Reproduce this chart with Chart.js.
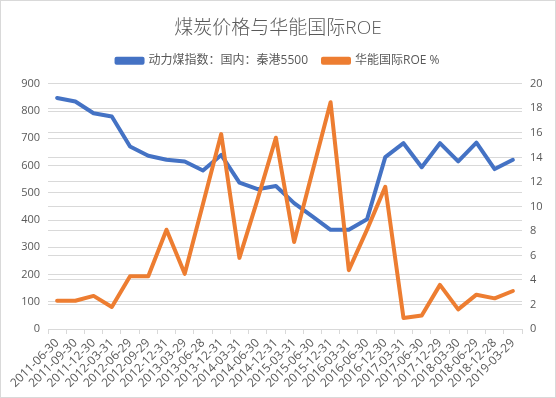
<!DOCTYPE html>
<html>
<head>
<meta charset="utf-8">
<script src="https://cdn.jsdelivr.net/npm/chart.js@4"></script>
<style>
  html, body { margin: 0; padding: 0; background: #fff; }
  #wrap { width: 556px; height: 398px; box-sizing: border-box; border: 1px solid #d9d9d9; }
</style>
</head>
<body>
<div id="wrap"><canvas id="chart"></canvas></div>
<script>
const dates = [
  "2011-06-30", "2011-09-30", "2011-12-30", "2012-03-31", "2012-06-29", "2012-09-29",
  "2012-12-31", "2013-03-29", "2013-06-28", "2013-12-31", "2014-03-31", "2014-06-30",
  "2014-12-31", "2015-03-31", "2015-06-30", "2015-12-31", "2016-03-31", "2016-06-30",
  "2016-12-30", "2017-03-31", "2017-06-30", "2017-12-29", "2018-03-30", "2018-06-29",
  "2018-12-28", "2019-03-29"
];

// 动力煤指数 (left axis)
const coalIndex = [848, 835, 792, 780, 670, 636, 621, 615, 582, 639, 537, 513, 525,
  462, 413, 364, 364, 403, 631, 682, 594, 682, 615, 684, 587, 621];

// 华能国际ROE % (right axis)
const huanengRoe = [2.3, 2.3, 2.7, 1.8, 4.3, 4.3, 8.1, 4.5, 10.2, 15.9, 5.8, 10.6, 15.6,
  7.1, 12.8, 18.5, 4.8, 8.1, 11.6, 0.9, 1.1, 3.6, 1.6, 2.8, 2.5, 3.1];

const leftTicks = { min: 0, max: 900, step: 100 };
const rightTicks = { min: 0, max: 20, step: 2 };

const grey = "#595959";
const gridColor = "#d9d9d9";
const fontFamily = "'Open Sans', 'Noto Sans CJK SC', sans-serif";

Chart.defaults.font.family = fontFamily;
Chart.defaults.color = grey;

new Chart(document.getElementById("chart"), {
  type: "line",
  data: {
    labels: dates,
    datasets: [
      {
        label: "动力煤指数：国内：秦港5500",
        data: coalIndex,
        yAxisID: "y",
        borderColor: "#4472c4",
        backgroundColor: "#4472c4",
        borderWidth: 4,
        pointRadius: 0,
        tension: 0,
        borderJoinStyle: "round",
        borderCapStyle: "round",
        order: 2,
      },
      {
        label: "华能国际ROE %",
        data: huanengRoe,
        yAxisID: "y1",
        borderColor: "#ed7d31",
        backgroundColor: "#ed7d31",
        borderWidth: 4,
        pointRadius: 0,
        tension: 0,
        borderJoinStyle: "round",
        borderCapStyle: "round",
        order: 1,
      },
    ],
  },
  options: {
    responsive: true,
    maintainAspectRatio: false,
    animation: false,
    layout: { padding: { left: 0, right: 0, top: 12, bottom: 0 } },
    plugins: {
      title: {
        display: true,
        text: "煤炭价格与华能国际ROE",
        color: grey,
        font: { size: 19, weight: 300 },
        padding: { top: 4, bottom: 0 },
      },
      // empty spacer between legend and plot
      subtitle: {
        display: true,
        text: " ",
        weight: 500,
        font: { size: 1, lineHeight: 1 },
        padding: { top: 0, bottom: 6 },
      },
      legend: {
        display: true,
        labels: {
          boxWidth: 26,
          boxHeight: 4,
          color: grey,
          font: { size: 12 },
          padding: 15,
          sort: (a, b) => a.datasetIndex - b.datasetIndex,
        },
      },
      tooltip: { enabled: false },
    },
    scales: {
      x: {
        offset: true,
        grid: { display: true, drawOnChartArea: false, offset: true, color: gridColor, tickLength: 5 },
        border: { color: gridColor },
        ticks: { autoSkip: false, minRotation: 45, maxRotation: 45, color: grey, font: { size: 12 }, padding: 2 },
        afterFit: (scale) => { scale.height = 68; },
      },
      y: {
        position: "left",
        min: leftTicks.min,
        max: leftTicks.max,
        ticks: { stepSize: leftTicks.step, color: grey, font: { size: 11 }, padding: 8 },
        grid: { color: gridColor, drawTicks: false },
        border: { display: false },
        afterFit: (scale) => { scale.width = 47; },
      },
      y1: {
        position: "right",
        min: rightTicks.min,
        max: rightTicks.max,
        ticks: { stepSize: rightTicks.step, color: grey, font: { size: 11 }, padding: 8 },
        grid: { color: gridColor, drawTicks: false },
        border: { display: false },
        afterFit: (scale) => { scale.width = 33; },
      },
    },
  },
});
</script>
</body>
</html>
